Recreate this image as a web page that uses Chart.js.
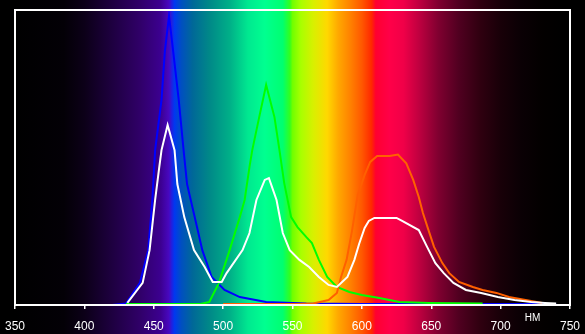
<!DOCTYPE html>
<html>
<head>
<meta charset="utf-8">
<script src="https://cdn.jsdelivr.net/npm/chart.js@4/dist/chart.umd.min.js"></script>
<style>
  body { margin: 0; background: #000; }
</style>
</head>
<body>
<canvas id="spectrumChart" width="585" height="334"></canvas>
<script>
// wavelength ticks, nm
var tickValues = [350, 400, 450, 500, 550, 600, 650, 700, 750];
var unitLabel = 'НМ';

// blue curve
var blueNm  = [420, 430, 440, 446, 449, 451, 455.6, 458, 461, 464, 468, 471.5, 474, 479.5, 485, 491.7, 501, 512, 531, 560, 600, 740];
var blueVal = [0, 0.5, 7.5, 18.6, 35.6, 52.5, 69.5, 86, 98, 86, 69.5, 52.5, 41, 29.8, 18.6, 9.5, 5.1, 2.7, 1, 0.5, 0.3, 0.3];

// green curve
var greenNm  = [430, 483, 490, 497, 504.7, 512, 515.5, 519, 521, 526, 531, 537, 540.6, 544, 549, 553.6, 560, 564, 569, 575, 582, 591, 600, 612.6, 627, 648.5, 687];
var greenVal = [0.3, 0.3, 1, 7.5, 18.6, 29.8, 35.6, 46.8, 52.5, 63.7, 74.6, 63.7, 52.5, 41.4, 29.8, 26.4, 23, 21, 15.3, 9.5, 6.1, 4.4, 3.4, 2.4, 1, 0.7, 0.5];

// orange curve
var orangeNm  = [500, 555, 565, 576, 582, 585, 589, 593, 597, 602, 606, 611, 620, 626, 632, 637, 641, 644, 648, 652, 658, 663, 670, 680, 687, 697, 706, 718, 730];
var orangeVal = [0.3, 0.3, 0.5, 1.7, 4.1, 9.5, 15.3, 25.4, 37.3, 44.1, 48.5, 50.5, 50.5, 51, 48, 42.4, 36.6, 31.2, 25.4, 19.7, 14.2, 10.8, 7.8, 6.1, 5.1, 4.1, 2.7, 1.7, 0.7];

// white (sum) curve
var whiteNm  = [431, 442, 447, 451, 454, 455.6, 460, 465, 467, 472, 479, 486.7, 492.5, 499, 502.5, 514, 519, 524, 530, 533, 538.5, 543, 548, 555, 562, 569, 576, 582, 589.6, 594.6, 598, 602, 605, 609, 625, 629, 641, 647, 653, 659, 666, 675, 686, 698, 710, 722, 732, 740];
var whiteVal = [0.7, 7.5, 18.6, 35.6, 46.8, 52.5, 61, 52.5, 41, 29.8, 18.6, 12.9, 7.8, 7.8, 10.8, 18.6, 24.4, 35.6, 42.4, 43, 35.6, 24.4, 18.6, 15.3, 12.9, 9.5, 6.8, 6.1, 9.5, 15.3, 20.7, 26.1, 28.5, 29.5, 29.5, 28.5, 25.4, 19.7, 14.2, 10.8, 7.5, 5.1, 4.1, 2.7, 1.7, 1, 0.7, 0.5];

// spectrum background stops: wavelength and colour
var spectrumNm = [350, 385, 400, 420, 440, 455, 461, 463, 465, 470, 478, 490, 505, 518, 530, 543, 548, 550, 556, 565, 575, 583, 592, 600, 607, 610, 620, 630, 641, 655, 670, 685, 700, 715, 730, 745];
var spectrumColors = ['#000000', '#030006', '#0c0018', '#1e0040', '#300068', '#3c0090', '#4808c0', '#2020e0', '#0038f0', '#0050c0', '#006898', '#008888', '#00b088', '#00e890', '#00ff90', '#00ff70', '#30ff20', '#70ff00', '#a8ff00', '#d8f000', '#ffd800', '#ffa800', '#ff8000', '#ff5800', '#ff2800', '#ff0030', '#ff0048', '#f00048', '#c00040', '#800030', '#500020', '#300010', '#180008', '#0a0004', '#030000', '#000000'];

function toPoints(xs, ys) {
  return xs.map(function(x, i) { return { x: x, y: ys[i] }; });
}

var spectrumPlugin = {
  id: 'spectrum',
  beforeDraw: function(chart) {
    var ctx = chart.ctx;
    var xs = chart.scales.x;
    var x0 = xs.getPixelForValue(350);
    var x1 = xs.getPixelForValue(750);
    ctx.save();
    ctx.fillStyle = '#000';
    ctx.fillRect(0, 0, chart.width, chart.height);
    var grad = ctx.createLinearGradient(x0, 0, x1, 0);
    spectrumNm.forEach(function(nm, i) {
      grad.addColorStop((nm - 350) / 400, spectrumColors[i]);
    });
    ctx.fillStyle = grad;
    ctx.fillRect(x0, 0, x1 - x0, chart.height);
    ctx.restore();
  },
  afterDraw: function(chart) {
    var ctx = chart.ctx;
    var a = chart.chartArea;
    ctx.save();
    ctx.strokeStyle = '#fff';
    ctx.lineWidth = 2;
    ctx.strokeRect(a.left, a.top, a.right - a.left, a.bottom - a.top);
    ctx.fillStyle = '#fff';
    ctx.font = '10px "Liberation Sans", Arial, sans-serif';
    ctx.textAlign = 'center';
    ctx.textBaseline = 'middle';
    ctx.fillText(unitLabel, chart.scales.x.getPixelForValue(723), a.bottom + 13);
    ctx.restore();
  }
};

function lineSet(label, xs, ys, color) {
  return {
    label: label,
    data: toPoints(xs, ys),
    borderColor: color,
    borderWidth: 2,
    pointRadius: 0,
    tension: 0,
    fill: false
  };
}

var ctx = document.getElementById('spectrumChart').getContext('2d');
var spectrumChart = new Chart(ctx, {
  type: 'line',
  data: {
    datasets: [
      lineSet('white', whiteNm, whiteVal, '#ffffff'),
      lineSet('orange', orangeNm, orangeVal, '#ff6000'),
      lineSet('green', greenNm, greenVal, '#00ff00'),
      lineSet('blue', blueNm, blueVal, '#0000ff')
    ]
  },
  options: {
    responsive: false,
    animation: false,
    layout: { padding: { left: 15, right: 15, top: 10, bottom: 0 } },
    plugins: {
      legend: { display: false },
      tooltip: { enabled: false }
    },
    scales: {
      x: {
        type: 'linear',
        min: 350,
        max: 750,
        afterBuildTicks: function(scale) {
          scale.ticks = tickValues.map(function(v) { return { value: v }; });
        },
        afterFit: function(scale) {
          scale.height = 29;
          scale.paddingLeft = 0;
          scale.paddingRight = 0;
        },
        ticks: {
          color: '#fff',
          padding: 10,
          maxRotation: 0,
          font: { family: '"Liberation Sans", Arial, sans-serif', size: 12 }
        },
        grid: {
          drawOnChartArea: false,
          drawTicks: true,
          tickLength: 4,
          color: '#fff',
          lineWidth: 1.5
        },
        border: { display: false }
      },
      y: {
        display: false,
        min: 0,
        max: 100
      }
    }
  },
  plugins: [spectrumPlugin]
});
</script>
</body>
</html>
